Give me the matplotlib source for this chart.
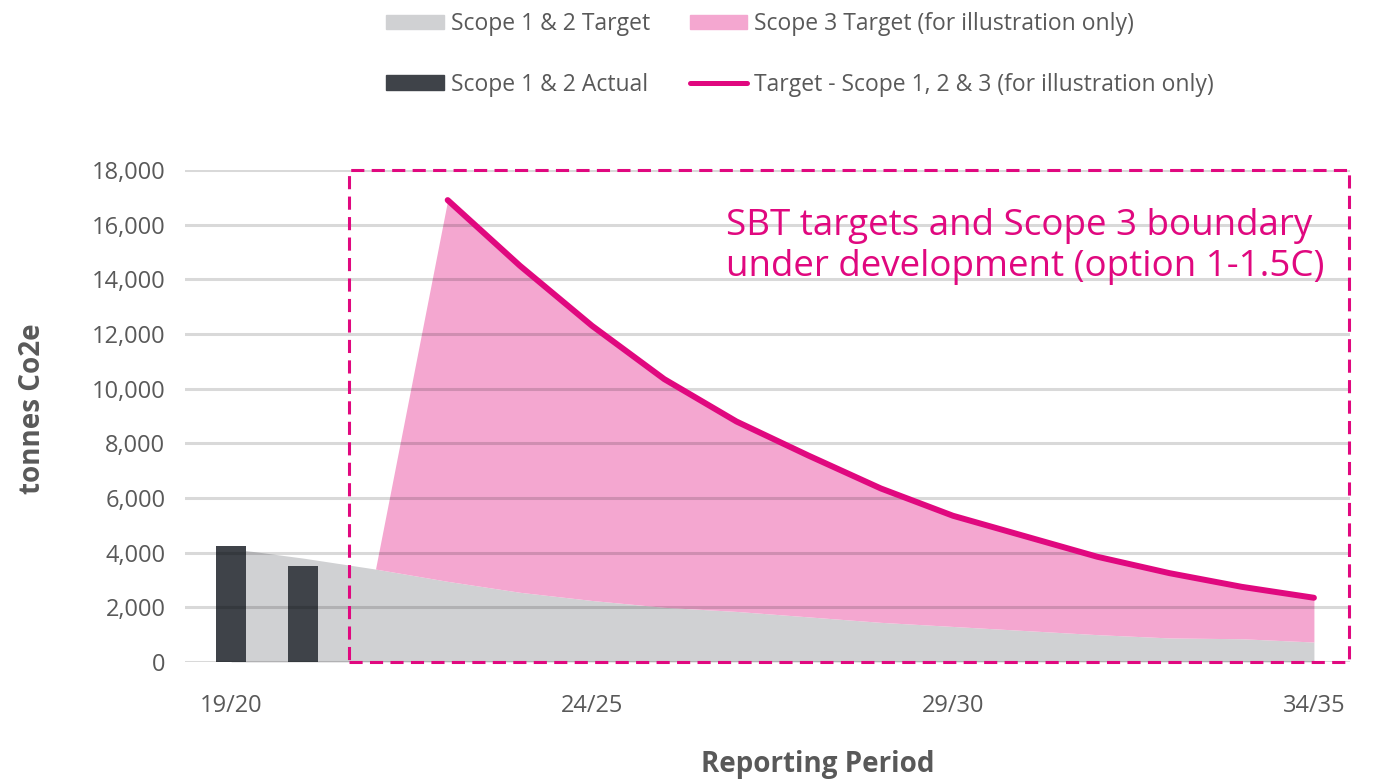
import numpy as np
import matplotlib
matplotlib.use("Agg")
import matplotlib.pyplot as plt
from matplotlib.patches import Patch, Rectangle
from matplotlib.lines import Line2D

# ---------------------------------------------------------------------------
# Data (tonnes CO2e)
# ---------------------------------------------------------------------------
periods = ["19/20", "20/21", "21/22", "22/23", "23/24", "24/25", "25/26", "26/27",
           "27/28", "28/29", "29/30", "30/31", "31/32", "32/33", "33/34", "34/35"]
tick_labels = ["19/20", "24/25", "29/30", "34/35"]

scope12_actual = [4250, 3500]
scope12_target = [4150, 3800, 3400, 2950, 2550, 2250, 2000, 1850,
                  1650, 1450, 1300, 1150, 1000, 880, 850, 730]
# scope 3 stacked on top of scope 1&2 target, from 21/22 onwards
scope3_target = [0, 13950, 11950, 10050, 8350, 6950, 5900, 4900,
                 4050, 3450, 2850, 2370, 1900, 1620]
total_target = [16900, 14500, 12300, 10350, 8800, 7550, 6350,
                5350, 4600, 3850, 3250, 2750, 2350]

GREY = "#d0d1d3"
PINK = "#f4a7d0"
MAGENTA = "#e0087f"
DARK = "#3f4349"
TXT = "#595959"

plt.rcParams["font.family"] = ["Open Sans", "DejaVu Sans"]

x = np.arange(len(periods))
x_s3 = x[2:]
x_tot = x[3:]

fig = plt.figure(figsize=(13.77, 7.8), dpi=100)
ax = fig.add_axes([0.1343, 0.1513, 0.8461, 0.6307])

ax.fill_between(x, 0, scope12_target, color=GREY, lw=0, zorder=1)
s12_sub = np.array(scope12_target[2:])
ax.fill_between(x_s3, s12_sub, s12_sub + np.array(scope3_target),
                color=PINK, lw=0, zorder=1)
ax.bar(x[:2], scope12_actual, width=0.42, color=DARK, zorder=2)
ax.plot(x_tot, total_target, color=MAGENTA, lw=4.3,
        solid_capstyle="round", solid_joinstyle="round", zorder=4)

# gridlines drawn on top, semi-transparent
for yv in range(0, 18001, 2000):
    ax.axhline(yv, color="black", alpha=0.15, lw=2.2, zorder=3)

# dashed boundary box
box = Rectangle((1.63, 0), 15.48 - 1.63, 18000, fill=False, ec=MAGENTA,
                lw=2.2, ls=(0, (4.3, 2.4)), zorder=5, clip_on=False)
ax.add_patch(box)

ax.text(6.86, 15200, "SBT targets and Scope 3 boundary\nunder development (option 1-1.5C)",
        color=MAGENTA, fontsize=26.5, ha="left", va="center", linespacing=1.16, zorder=6)

ax.set_xlim(-0.64, 15.5)
ax.set_ylim(0, 18000)
ax.set_yticks(range(0, 18001, 2000))
ax.set_yticklabels([f"{v:,}" for v in range(0, 18001, 2000)])
ax.set_xticks([0, 5, 10, 15])
ax.set_xticklabels(tick_labels)
ax.tick_params(axis="both", length=0, labelsize=17, colors=TXT)
ax.tick_params(axis="x", pad=23)
ax.tick_params(axis="y", pad=14)
for s in ax.spines.values():
    s.set_visible(False)

ax.set_xlabel("Reporting Period", fontsize=20, fontweight="bold", color=TXT)
ax.xaxis.set_label_coords(0.543, -0.178)
ax.set_ylabel("tonnes Co2e", fontsize=20, fontweight="bold", color=TXT)
ax.yaxis.set_label_coords(-0.118, 0.514)

handles = [
    Patch(color=GREY, label="Scope 1 & 2 Target"),
    Patch(color=DARK, label="Scope 1 & 2 Actual"),
    Patch(color=PINK, label="Scope 3 Target (for illustration only)"),
    Line2D([0], [0], color=MAGENTA, lw=3.6, solid_capstyle="round",
           label="Target - Scope 1, 2 & 3 (for illustration only)"),
]
leg = fig.legend(handles=handles, loc="upper left", bbox_to_anchor=(0.269, 1.005),
                 ncol=2, frameon=False, fontsize=16.5, handlelength=2.5,
                 handleheight=0.6, handletextpad=0.3, columnspacing=1.75,
                 labelspacing=1.6, borderpad=0.2)
for t in leg.get_texts():
    t.set_color(TXT)

fig.savefig("out.png", dpi=100)
